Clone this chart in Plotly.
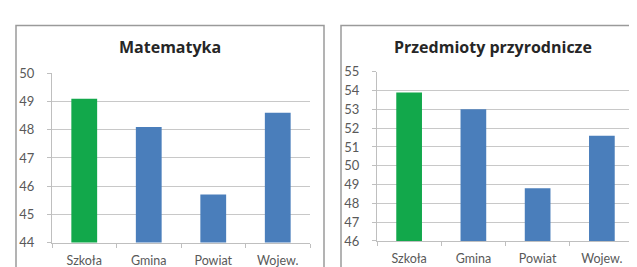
import plotly.graph_objects as go

categories = ["Szkoła", "Gmina", "Powiat", "Wojew."]
mat_values = [49.1, 48.1, 45.7, 48.6]
prz_values = [53.9, 53.0, 48.8, 51.6]
bar_colors = ["#12A84B", "#4A7EBB", "#4A7EBB", "#4A7EBB"]
mat_ticks = [44, 45, 46, 47, 48, 49, 50]
prz_ticks = [46, 47, 48, 49, 50, 51, 52, 53, 54, 55]
titles = ["Matematyka", "Przedmioty przyrodnicze"]

W, H = 637, 267
def px(x): return x / W
def py(y): return 1 - y / H

fig = go.Figure()
fig.add_trace(go.Bar(x=categories, y=mat_values, marker_color=bar_colors,
                     marker_line_width=0, xaxis="x", yaxis="y", width=0.4))
fig.add_trace(go.Bar(x=categories, y=prz_values, marker_color=bar_colors,
                     marker_line_width=0, xaxis="x2", yaxis="y2", width=0.4))

xfont = dict(family="Lato, Open Sans, sans-serif", size=12.5, color="#595959")
yfont = dict(family="Lato, Open Sans, sans-serif", size=13, color="#595959")
xcommon = dict(showgrid=False, showline=True, linecolor="#BFBFBF", linewidth=1,
               ticks="outside", tickson="boundaries", ticklen=4, tickcolor="#BFBFBF",
               tickfont=xfont, fixedrange=True, ticklabelstandoff=6)
ycommon = dict(showgrid=True, gridcolor="#C8C8C8", gridwidth=1, showline=True,
               linecolor="#BFBFBF", linewidth=1, ticks="outside", ticklen=4,
               tickcolor="#BFBFBF", tickfont=yfont, zeroline=False, fixedrange=True,
               ticklabelstandoff=10)

fig.update_layout(
    width=W, height=H, margin=dict(l=0, r=0, t=0, b=0),
    paper_bgcolor="white", plot_bgcolor="white", showlegend=False,
    xaxis=dict(domain=[px(44), px(302)], anchor="y", **xcommon),
    yaxis=dict(domain=[py(241), py(61)], anchor="x", range=[44, 50],
               tickvals=mat_ticks, **ycommon),
    xaxis2=dict(domain=[px(369), px(626)], anchor="y2", **xcommon),
    yaxis2=dict(domain=[py(239.3), py(59.3)], anchor="x2", range=[46, 55],
                tickvals=prz_ticks, **ycommon),
)

title_font = dict(family="Open Sans, Lato, sans-serif", size=16, color="#262626")
fig.add_annotation(text="<b>" + titles[0] + "</b>", x=px(162), y=py(33), xref="paper",
                   yref="paper", showarrow=False, font=title_font,
                   xanchor="center", yanchor="middle")
fig.add_annotation(text="<b>" + titles[1] + "</b>", x=px(485), y=py(33), xref="paper",
                   yref="paper", showarrow=False, font=title_font,
                   xanchor="center", yanchor="middle")

fig.add_shape(type="rect", xref="paper", yref="paper", x0=px(8), x1=px(316),
              y0=py(280), y1=py(10), line=dict(color="#9A9A9A", width=1.5))
fig.add_shape(type="rect", xref="paper", yref="paper", x0=px(333), x1=px(650),
              y0=py(280), y1=py(10), line=dict(color="#9A9A9A", width=1.5))

fig.write_html("out.html")
